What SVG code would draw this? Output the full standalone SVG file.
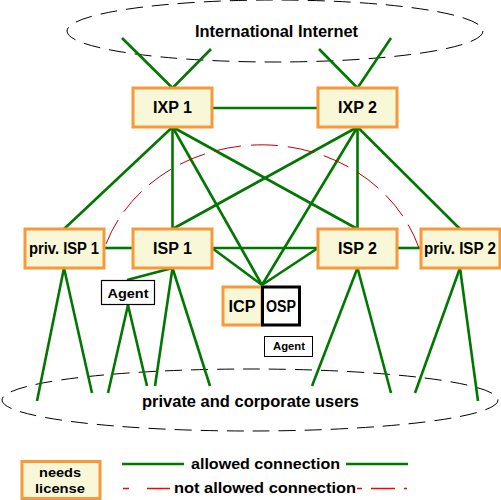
<svg xmlns="http://www.w3.org/2000/svg" width="501" height="500" viewBox="0 0 501 500">
<style>
.bg{fill:#ffffff}
.lic{fill:#f8f8d8;stroke:#f89838;stroke-width:3}
.plain{fill:#ffffff;stroke:#000000}
.g{stroke:#007700;stroke-width:2.6;fill:none;stroke-linecap:butt}
.cloud{fill:none;stroke:#000000;stroke-width:1;stroke-dasharray:17,9}
.na{fill:none;stroke:#c00000;stroke-width:1;stroke-dasharray:27,10}
.lr{stroke:#ff0000;stroke-width:1.5}
text{font-family:"Liberation Sans",Arial,sans-serif;font-weight:bold;fill:#000000;text-anchor:middle}
.t16{font-size:16px}
.t15{font-size:15px}
.t13{font-size:13px}
.t11{font-size:11px}
</style>
<rect class="bg" x="0" y="0" width="501" height="500"/>
<g id="internet">
<ellipse class="cloud" cx="275" cy="31" rx="208" ry="31"/>
<text class="t16" x="276.5" y="37" textLength="163" lengthAdjust="spacingAndGlyphs">International Internet</text>
</g>
<g id="users">
<ellipse class="cloud" cx="250" cy="400" rx="248" ry="31"/>
<text class="t16" x="250.5" y="407" textLength="217" lengthAdjust="spacingAndGlyphs">private and corporate users</text>
</g>
<g id="connectors">
<line class="g" x1="122" y1="38" x2="172.5" y2="88"/>
<line class="g" x1="211" y1="49" x2="172.5" y2="88"/>
<line class="g" x1="319" y1="49" x2="357.5" y2="88"/>
<line class="g" x1="391" y1="38" x2="357.5" y2="88"/>
<line class="g" x1="212" y1="108" x2="318" y2="108"/>
<line class="g" x1="172.5" y1="127" x2="64" y2="229"/>
<line class="g" x1="172.5" y1="127" x2="172.5" y2="229"/>
<line class="g" x1="172.5" y1="127" x2="357.5" y2="229"/>
<line class="g" x1="172.5" y1="127" x2="262" y2="285"/>
<line class="g" x1="357.5" y1="127" x2="460" y2="229"/>
<line class="g" x1="357.5" y1="127" x2="357.5" y2="229"/>
<line class="g" x1="357.5" y1="127" x2="172.5" y2="229"/>
<line class="g" x1="357.5" y1="127" x2="262" y2="285"/>
<line class="g" x1="104" y1="248" x2="133" y2="248"/>
<line class="g" x1="212" y1="248" x2="318" y2="248"/>
<line class="g" x1="397" y1="248" x2="421" y2="248"/>
<line class="g" x1="212" y1="248" x2="262" y2="285"/>
<line class="g" x1="318" y1="248" x2="262" y2="285"/>
<line class="g" x1="64" y1="268" x2="37" y2="401"/>
<line class="g" x1="64" y1="268" x2="92" y2="393"/>
<line class="g" x1="127" y1="280" x2="172.5" y2="268"/>
<line class="g" x1="128" y1="305" x2="108" y2="393"/>
<line class="g" x1="128" y1="305" x2="147" y2="386"/>
<line class="g" x1="172.5" y1="268" x2="155" y2="386"/>
<line class="g" x1="172.5" y1="268" x2="210" y2="386"/>
<line class="g" x1="357.5" y1="268" x2="312" y2="386"/>
<line class="g" x1="357.5" y1="268" x2="391" y2="393"/>
<line class="g" x1="460" y1="268" x2="415" y2="393"/>
<line class="g" x1="460" y1="268" x2="478" y2="401"/>
<path class="na" d="M106,244 A165,148 0 0 1 419,248"/>
</g>
<g id="ixp1">
<rect class="lic" x="133" y="88" width="79" height="39"/>
<text class="t16" x="172.5" y="113" textLength="39" lengthAdjust="spacingAndGlyphs">IXP 1</text>
</g>
<g id="ixp2">
<rect class="lic" x="318" y="88" width="79" height="39"/>
<text class="t16" x="357.5" y="113" textLength="39" lengthAdjust="spacingAndGlyphs">IXP 2</text>
</g>
<g id="privisp1">
<rect class="lic" x="25" y="229" width="79" height="39"/>
<text class="t16" x="64" y="254" textLength="70" lengthAdjust="spacingAndGlyphs">priv. ISP 1</text>
</g>
<g id="isp1">
<rect class="lic" x="133" y="229" width="79" height="39"/>
<text class="t16" x="172.5" y="254" textLength="39" lengthAdjust="spacingAndGlyphs">ISP 1</text>
</g>
<g id="isp2">
<rect class="lic" x="318" y="229" width="79" height="39"/>
<text class="t16" x="357.5" y="254" textLength="39" lengthAdjust="spacingAndGlyphs">ISP 2</text>
</g>
<g id="privisp2">
<rect class="lic" x="421" y="229" width="79" height="39"/>
<text class="t16" x="460" y="254" textLength="72" lengthAdjust="spacingAndGlyphs">priv. ISP 2</text>
</g>
<g id="agent1">
<rect class="plain" x="101.5" y="280.5" width="53" height="24" stroke-width="1.2"/>
<text class="t13" x="128" y="298" textLength="41" lengthAdjust="spacingAndGlyphs">Agent</text>
</g>
<g id="icp">
<rect class="lic" x="223" y="287" width="39" height="38"/>
<text class="t16" x="242" y="312" textLength="27" lengthAdjust="spacingAndGlyphs">ICP</text>
</g>
<g id="osp">
<rect class="plain" x="262.5" y="287" width="37" height="38" stroke-width="3"/>
<text class="t16" x="281" y="312" textLength="30" lengthAdjust="spacingAndGlyphs">OSP</text>
</g>
<g id="agent2">
<rect class="plain" x="264.5" y="336.5" width="48" height="20" stroke-width="1"/>
<text class="t11" x="289" y="350" textLength="32" lengthAdjust="spacingAndGlyphs">Agent</text>
</g>
<g id="legend">
<rect class="lic" x="22" y="461.5" width="78" height="37"/>
<text class="t13" x="60" y="477" textLength="42" lengthAdjust="spacingAndGlyphs">needs</text>
<text class="t13" x="60" y="493" textLength="50" lengthAdjust="spacingAndGlyphs">license</text>
<line class="g" x1="122" y1="464" x2="184" y2="464"/>
<line class="g" x1="346" y1="464" x2="408" y2="464"/>
<text class="t15" x="265.5" y="469" textLength="149" lengthAdjust="spacingAndGlyphs">allowed connection</text>
<line class="lr" x1="123" y1="488.5" x2="129" y2="488.5"/>
<line class="lr" x1="147" y1="488.5" x2="170" y2="488.5"/>
<line class="lr" x1="357" y1="488.5" x2="362" y2="488.5"/>
<line class="lr" x1="371" y1="488.5" x2="395" y2="488.5"/>
<line class="lr" x1="404" y1="488.5" x2="407" y2="488.5"/>
<text class="t15" x="265" y="493" textLength="182" lengthAdjust="spacingAndGlyphs">not allowed connection</text>
</g>
</svg>
